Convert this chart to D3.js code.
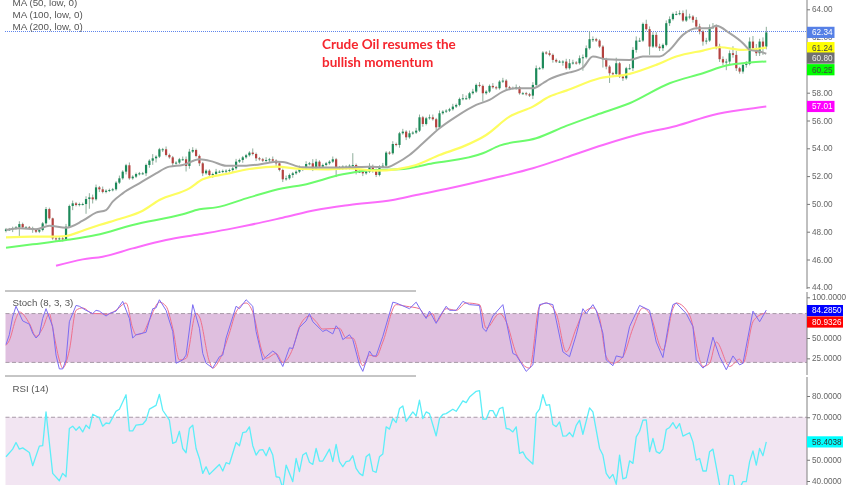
<!DOCTYPE html>
<html>
<head>
<meta charset="utf-8">
<script src="https://cdn.jsdelivr.net/npm/d3@7"></script>
<style>
  body { margin: 0; background: #fff; }
  svg { display: block; font-family: "Liberation Sans", Arial, sans-serif; }
</style>
</head>
<body>
<script>
// candles
var closes = [
  48.17,48.17,48.26,48.31,48.55,48.31,48.31,48.26,48.12,48.00,
  48.12,48.60,49.63,48.96,47.52,47.45,47.52,47.45,48.36,49.85,
  50.04,49.92,49.99,49.99,50.35,50.47,50.33,51.19,51.05,50.86,
  50.95,51.00,51.05,51.53,51.84,52.32,52.78,51.84,51.96,52.15,
  52.20,52.20,52.80,53.11,53.28,53.40,53.93,53.93,53.52,53.35,
  52.92,52.97,53.21,53.21,52.73,53.76,53.88,53.45,52.92,52.20,
  52.39,52.08,52.15,52.32,52.32,52.37,52.39,52.44,52.56,53.04,
  53.16,53.35,53.50,53.69,53.59,53.28,53.21,53.11,53.16,53.21,
  53.11,52.92,52.44,51.77,51.84,52.08,52.20,52.32,52.56,52.56,
  52.87,52.92,52.56,53.04,52.68,52.80,52.92,53.04,53.21,52.63,
  52.56,52.68,52.68,52.75,52.80,52.32,52.32,52.20,52.32,52.73,
  52.44,52.08,52.68,52.75,53.69,53.64,54.31,54.24,55.08,55.20,
  54.79,55.08,55.13,55.27,56.23,55.75,56.16,56.23,56.09,55.51,
  56.52,56.64,56.71,56.81,57.00,57.12,57.55,57.60,57.60,57.96,
  58.08,58.56,58.49,57.96,58.08,58.49,58.39,58.32,58.80,58.87,
  58.39,58.34,58.32,58.39,57.96,57.96,57.89,57.79,58.56,59.76,
  59.76,60.89,60.84,60.72,60.36,60.24,60.24,60.24,59.76,60.12,
  60.17,60.12,60.48,60.55,61.20,61.85,61.85,61.75,61.32,60.41,
  59.88,59.40,59.35,60.12,59.16,59.04,59.76,59.76,61.08,61.75,
  61.75,62.95,62.57,61.32,62.16,61.32,61.20,61.44,63.00,63.29,
  63.67,63.67,63.72,63.19,63.48,63.48,63.24,62.76,62.40,61.68,
  61.75,62.71,62.71,61.32,60.41,60.17,60.24,60.84,60.72,59.76,
  59.52,60.00,60.07,61.68,61.20,60.84,61.68,61.32,62.34
];
var opens = [
  48.05,48.17,48.17,48.26,48.31,48.55,48.31,48.31,48.26,48.12,
  48.00,48.12,48.60,49.63,48.96,47.52,47.45,47.52,47.45,48.36,
  49.85,50.04,49.92,49.99,49.99,50.35,50.47,50.33,51.19,51.05,
  50.86,50.95,51.00,51.05,51.53,51.84,52.32,52.78,51.84,51.96,
  52.15,52.20,52.20,52.80,53.11,53.28,53.40,53.93,53.93,53.52,
  53.35,52.92,52.97,53.21,53.21,52.73,53.76,53.88,53.45,52.92,
  52.20,52.39,52.08,52.15,52.32,52.32,52.37,52.39,52.44,52.56,
  53.04,53.16,53.35,53.50,53.69,53.59,53.28,53.21,53.11,53.16,
  53.21,53.11,52.92,52.44,51.77,51.84,52.08,52.20,52.32,52.56,
  52.56,52.87,52.92,52.56,53.04,52.68,52.80,52.92,53.04,53.21,
  52.63,52.56,52.68,52.68,52.75,52.80,52.32,52.32,52.20,52.32,
  52.73,52.44,52.08,52.68,52.75,53.69,53.64,54.31,54.24,55.08,
  55.20,54.79,55.08,55.13,55.27,56.23,55.75,56.16,56.23,56.09,
  55.51,56.52,56.64,56.71,56.81,57.00,57.12,57.55,57.60,57.60,
  57.96,58.08,58.56,58.49,57.96,58.08,58.49,58.39,58.32,58.80,
  58.87,58.39,58.34,58.32,58.39,57.96,57.96,57.89,57.79,58.56,
  59.76,59.76,60.89,60.84,60.72,60.36,60.24,60.24,60.24,59.76,
  60.12,60.17,60.12,60.48,60.55,61.20,61.85,61.85,61.75,61.32,
  60.41,59.88,59.40,59.35,60.12,59.16,59.04,59.76,59.76,61.08,
  61.75,61.75,62.95,62.57,61.32,62.16,61.32,61.20,61.44,63.00,
  63.29,63.67,63.67,63.72,63.19,63.48,63.48,63.24,62.76,62.40,
  61.68,61.75,62.71,62.71,61.32,60.41,60.17,60.24,60.84,60.72,
  59.76,59.52,60.00,60.07,61.68,61.20,60.84,61.68,61.32
];
// wick length above / below the body
var wickUp = [
  .1,.1,.1,.1,.2,.1,.1,.1,.1,.1, .1,.1,.15,.1,.05,.1,.1,.1,.2,.1,
  .2,.1,.1,.1,.2,.3,.2,.2,.1,.2, .1,.1,.1,.1,.2,.1,.1,.2,.1,.1,
  .1,.1,.1,.1,.3,.1,.1,.1,.2,.1, .1,.1,.1,.2,.2,.2,.2,.1,.1,.1,
  .1,.1,.1,.2,.1,.1,.1,.1,.1,.2, .1,.1,.1,.1,.3,.1,.1,.1,.2,.1,
  .2,.1,.1,.1,.2,.1,.1,.1,.2,.1, .2,.1,.3,.2,.1,.1,.1,.1,.2,.1,
  .1,.1,.1,.1,.85,.1,.1,.1,.1,.2, .1,.1,.1,.2,.1,.1,.2,.1,.1,.2,
  .1,.2,.1,.2,.2,.1,.1,.2,.2,.1, .2,.1,.1,.1,.2,.1,.1,.3,.2,.1,
  .2,.1,.2,.1,.1,.1,.2,.1,.1,.2, .1,.1,.1,.2,.1,.1,.1,.1,.2,.2,
  .1,.1,.1,.2,.1,.1,.1,.1,.2,.3, .2,.1,.2,.2,.2,.55,.2,.1,.1,.1,
  .1,.1,.1,.4,.1,.1,.1,.3,.2,.3, .2,.1,.3,.2,.2,.2,.2,.1,.2,.2,
  .1,.2,.2,.2,.5,.2,.1,.2,.2,.1, .2,.2,.3,.2,.2,.2,.2,.2,.5,.3,
  .1,.1,.2,.3,.4,.3,.2,.3,.4
];
var wickDown = [
  .1,.1,.2,.1,.65,.1,.1,.1,.2,.1, .1,.1,.1,.1,.1,.15,.1,.15,.1,.1,
  .3,.1,.1,.1,.7,.7,.3,.1,.2,.1, .1,.1,.1,.1,.1,.1,.2,.1,.1,.1,
  .1,.1,.2,.2,.3,.3,.1,.2,.1,.1, .2,.1,.1,.1,.4,.2,.1,.1,.2,.2,
  .1,.1,.2,.1,.1,.1,.2,.1,.2,.1, .1,.2,.1,.1,.1,.2,.1,.1,.1,.2,
  .1,.2,.1,.2,.1,.1,.2,.1,.1,.2, .1,.1,.2,.1,.1,.1,.1,.1,.1,.7,
  .1,.1,.2,.2,.1,.2,.1,.2,.1,.1, .2,.15,.1,.1,.1,.1,.1,.1,.2,.1,
  .2,.1,.1,.1,.1,.2,.1,.1,.1,.2, .1,.1,.1,.1,.1,.1,.1,.1,.1,.1,
  .1,.1,.1,.6,.1,.1,.1,.1,.1,.1, .2,.1,.1,.1,.1,.1,.1,.1,.25,.1,
  .1,.1,.1,.1,.2,.1,.1,.3,.1,.1, .1,.1,.1,.9,.1,.1,.2,.1,.1,.6,
  .2,.7,.1,.2,.1,.2,.1,.1,.2,.2, .1,.1,.1,.6,.1,.1,.2,.2,.1,.2,
  .1,.1,.1,.1,.1,.2,.2,.2,.2,.3, .2,.1,.1,.2,.2,.2,.55,.2,.2,.2,
  .15,.15,.2,.1,.2,.2,.2,.6,.2
];

var priceTicks = [64, 62, 58, 56, 54, 52, 50, 48, 46, 44];
var stochTicks = [100, 50, 25];
var rsiTicks = [80, 70, 50, 40];

// moving averages: bar number + value at the bends
var maGrayBars = [0,4,9,13,18,23,27,30,32,35,40,45,49,53,58,62,66,72,78,81,83,89,96,103,109,114,117,121,125,130,135,141,145,149,153,158,161,163,168,169,173,176,180,187,191,196,199,203,207,211,213,217,221,223,226,228];
var maGray = [48.12,48.24,48.17,48.43,48.29,48.79,49.37,49.56,50.16,50.76,51.48,52.20,52.68,52.80,53.21,53.04,52.75,52.75,52.92,53.04,53.02,52.63,52.61,52.63,52.68,52.63,52.92,53.52,54.36,55.44,56.28,57.12,57.48,58.08,58.32,58.32,58.68,58.97,59.40,59.46,59.81,60.60,60.41,60.36,60.60,60.60,61.08,62.16,62.64,62.64,62.81,62.28,61.56,61.08,60.96,60.80];
var maYellowBars = [0,8,14,18,23,28,34,41,46,55,59,66,73,81,89,96,103,111,117,123,130,137,144,151,158,163,168,178,187,195,201,209,214,221,228];
var maYellow = [47.59,47.64,47.64,47.69,48.07,48.48,48.91,49.51,50.28,51.12,51.77,52.15,52.51,52.68,52.51,52.49,52.56,52.39,52.49,52.80,53.52,54.12,54.96,56.28,57.00,57.72,58.15,59.04,59.35,60.00,60.60,61.03,61.27,61.08,61.24];
var maGreenBars = [0,8,18,27,38,53,58,63,73,83,89,101,110,118,128,143,148,159,168,177,187,199,209,216,223,228];
var maGreen = [46.85,47.09,47.40,47.76,48.48,49.25,49.61,49.75,50.47,51.12,51.36,52.13,52.44,52.49,52.92,53.64,54.19,54.72,55.61,56.40,57.24,58.68,59.40,59.95,60.17,60.25];
var maMagentaBars = [15,23,29,38,48,58,68,73,83,93,103,116,123,133,146,158,168,179,191,201,212,222,228];
var maMagenta = [45.55,46.01,46.20,46.80,47.40,47.81,48.24,48.48,49.01,49.56,49.92,50.28,50.64,51.12,51.84,52.56,53.35,54.24,55.08,55.61,56.40,56.81,57.01];

// stochastic
var stochKBars = [0,1,2,3,4,5,7,8,9,10,11,12,14,15,16,17,18,19,21,22,24,26,27,28,30,31,33,35,37,38,39,42,44,45,46,48,50,51,53,54,56,58,59,60,62,64,65,66,68,69,70,72,74,75,77,78,80,81,83,85,86,88,90,91,92,95,96,98,99,100,101,103,104,106,107,109,110,111,113,114,116,117,121,123,125,126,127,129,130,132,133,135,137,139,142,143,144,146,149,152,153,156,158,160,162,164,165,167,169,171,173,174,176,177,179,180,182,183,185,187,190,193,195,197,199,200,201,204,206,207,209,210,212,214,216,218,220,221,224,226,228];
var stochK = [42,54,76,89,80,71,67,56,50,54,74,86,64,29,12,12,23,70,90,89,84,80,84,83,77,80,83,95,74,50,54,57,86,87,97,84,58,19,23,29,91,62,31,19,13,27,29,50,76,89,86,97,89,58,23,27,34,31,15,38,37,63,71,80,70,58,60,55,65,60,48,54,48,17,9,34,28,28,52,66,94,93,86,94,80,74,83,68,76,89,84,84,95,91,90,62,58,77,91,31,29,9,17,91,93,91,72,33,27,54,86,80,91,84,56,23,16,28,26,64,90,84,45,26,74,91,93,80,64,23,13,17,51,27,11,28,17,19,83,70,84.285];
var stochDBars = [0,1,3,4,7,9,11,13,14,16,17,19,21,23,26,28,30,33,36,38,39,41,43,46,48,50,52,54,57,58,61,62,64,67,69,72,74,77,78,81,83,86,88,91,93,95,100,102,104,107,109,111,113,117,120,124,126,128,129,132,135,138,142,144,148,150,153,157,160,162,165,168,171,173,176,178,180,182,185,188,191,193,197,200,201,205,209,211,213,217,220,221,224,225,228];
var stochD = [41,47,74,82,68,52,62,80,62,23,13,35,84,87,80,80,79,84,93,62,54,56,72,94,89,62,23,25,80,76,21,13,23,56,82,93,82,31,25,31,20,37,64,77,70,61,62,50,50,16,29,27,45,91,89,86,76,80,70,86,84,93,91,62,80,70,31,13,89,93,80,33,62,80,87,74,27,19,27,62,87,80,35,86,93,78,15,19,45,15,24,19,70,75,80.9326];

// rsi
var rsiBars = [0,2,3,4,5,7,8,10,11,12,14,16,17,18,19,20,21,22,23,24,25,26,28,29,30,31,33,34,36,37,38,39,41,42,43,45,46,47,49,50,51,52,53,54,55,56,57,58,59,60,61,63,64,65,66,67,69,70,71,72,73,74,75,76,77,78,79,80,81,82,83,84,85,86,87,88,89,90,91,92,93,94,95,96,97,98,99,100,101,102,103,104,105,106,107,108,109,110,111,112,113,114,115,116,117,118,119,120,122,123,124,125,126,127,129,130,131,132,134,135,137,138,139,141,142,143,144,145,146,147,148,149,150,151,152,153,154,155,156,158,159,160,161,162,163,164,165,166,167,168,169,170,171,172,173,175,176,178,179,180,181,182,183,184,185,186,187,188,189,190,191,192,193,194,195,196,197,198,199,200,201,202,203,205,206,207,208,209,210,211,212,213,214,216,217,218,219,221,222,223,224,225,226,227,228];
var rsi = [51.4,55.0,58.1,55.0,55.6,53.4,47.2,56.4,56.6,72.5,43.6,40.1,43.6,42.0,64.7,65.8,63.9,65.5,63.1,66.3,64.7,71.4,69.7,65.8,67.3,67.0,72.8,73.8,80.6,63.6,63.6,66.3,66.7,68.6,73.8,75.6,80.8,73.3,68.6,57.7,58.4,63.4,55.3,53.3,64.7,66.3,55.3,50.6,43.6,46.7,43.1,46.2,47.8,44.7,48.6,48.0,58.1,56.6,62.8,63.1,65.5,56.6,52.2,54.5,54.8,51.9,55.8,52.2,42.0,41.7,36.6,47.5,43.6,39.7,50.6,44.4,52.2,53.3,48.8,47.8,55.3,49.4,49.4,52.2,55.0,49.1,57.2,49.1,46.7,49.1,49.5,51.9,45.9,43.6,42.5,51.4,52.7,44.7,44.1,51.4,52.7,65.5,64.4,69.4,67.5,74.1,75.3,68.1,72.5,70.6,78.0,69.4,72.5,71.7,61.2,69.4,71.3,71.7,73.8,72.8,77.7,76.9,79.5,82.2,82.5,69.1,69.1,73.1,73.1,70.2,74.1,74.7,64.7,64.4,63.1,65.5,53.0,53.7,50.9,48.0,71.7,73.8,80.6,75.6,75.9,66.6,65.6,67.8,61.1,61.2,62.8,60.8,66.2,68.6,62.0,74.4,72.5,55.3,52.2,43.6,41.2,43.1,38.4,52.2,41.0,41.6,49.5,48.3,60.8,63.4,68.6,68.8,53.8,60.0,53.8,53.0,55.0,64.2,65.2,67.5,64.7,67.0,61.1,62.7,58.4,49.8,50.6,44.7,44.7,53.8,55.0,46.7,38.1,31.9,42.8,42.5,33.4,39.7,39.7,49.1,54.2,47.5,55.3,51.9,58.4038];

var maLabels = ["MA (50, low, 0)", "MA (100, low, 0)", "MA (200, low, 0)"];
var titleLines = ["Crude Oil resumes the", "bullish momentum"];
var lastPrice = 62.34;
var stochBand = [80, 20];
var rsiBandTop = 70;

var width = 852, height = 485;
var axisX = 807;

var svg0 = d3.select("body").append("svg")
             .attr("width", width)
             .attr("height", height);

// the reference is a soft, slightly blurred screenshot
svg0.append("defs").append("filter")
    .attr("id", "soft")
    .attr("x", 0).attr("y", 0).attr("width", 1).attr("height", 1)
    .append("feGaussianBlur")
    .attr("stdDeviation", 0.35);

var svg = svg0.append("g").attr("filter", "url(#soft)");

svg.append("rect").attr("width", width).attr("height", height).attr("fill", "#fff");

var x = d3.scaleLinear().domain([0, closes.length - 1]).range([6, 766.3]);
var yPrice = d3.scaleLinear().domain([64, 44]).range([9.3, 287.3]);
var yStoch = d3.scaleLinear().domain([100, 0]).range([297.3, 378.7]);
var yRsi = d3.scaleLinear().domain([80, 40]).range([396, 481]);

// indicator bands
svg.append("rect")
   .attr("x", 5.5).attr("width", axisX - 5.5)
   .attr("y", yStoch(stochBand[0]))
   .attr("height", yStoch(stochBand[1]) - yStoch(stochBand[0]))
   .attr("fill", "#dfbfdf");
svg.append("rect")
   .attr("x", 5.5).attr("width", axisX - 5.5)
   .attr("y", yRsi(rsiBandTop))
   .attr("height", height - yRsi(rsiBandTop))
   .attr("fill", "#f2e5f2");

[yStoch(stochBand[0]), yStoch(stochBand[1]), yRsi(rsiBandTop)].forEach(function (yy) {
    svg.append("line")
       .attr("x1", 5.5).attr("x2", axisX)
       .attr("y1", yy).attr("y2", yy)
       .attr("stroke", "#a89aa8")
       .attr("stroke-width", 1)
       .attr("stroke-dasharray", "4,2.5");
});

// pane separators stop short of the right side in the reference
[291, 376].forEach(function (yy) {
    svg.append("line")
       .attr("x1", 5).attr("x2", 416)
       .attr("y1", yy).attr("y2", yy)
       .attr("stroke", "#8c8c8c");
});

// last price line
svg.append("line")
   .attr("x1", 5).attr("x2", axisX)
   .attr("y1", Math.round(yPrice(lastPrice)) - 0.5).attr("y2", Math.round(yPrice(lastPrice)) - 0.5)
   .attr("stroke", "#5f85ec")
   .attr("stroke-width", 1)
   .attr("stroke-dasharray", "1,1");

// candles
var bars = d3.range(closes.length);

svg.append("g").selectAll("line")
   .data(bars)
   .enter().append("line")
   .attr("x1", function (i) { return x(i); })
   .attr("x2", function (i) { return x(i); })
   .attr("y1", function (i) { return yPrice(Math.max(opens[i], closes[i]) + wickUp[i]); })
   .attr("y2", function (i) { return yPrice(Math.min(opens[i], closes[i]) - wickDown[i]); })
   .attr("stroke", "#8fae9c")
   .attr("stroke-width", 1);

svg.append("g").selectAll("rect")
   .data(bars)
   .enter().append("rect")
   .attr("x", function (i) { return x(i) - 1.1; })
   .attr("width", 2.2)
   .attr("y", function (i) { return yPrice(Math.max(opens[i], closes[i])); })
   .attr("height", function (i) { return Math.max(1, Math.abs(yPrice(opens[i]) - yPrice(closes[i]))); })
   .attr("fill", function (i) { return closes[i] >= opens[i] ? "#1f8a5a" : "#b4423f"; });

function drawLine(barNums, values, yScale, color, lineWidth, curve) {
    var line = d3.line()
                 .curve(curve)
                 .x(function (d) { return x(d); })
                 .y(function (d, i) { return yScale(values[i]); });
    svg.append("path")
       .attr("d", line(barNums))
       .attr("fill", "none")
       .attr("stroke", color)
       .attr("stroke-width", lineWidth)
       .attr("stroke-linejoin", "round");
}

drawLine(maMagentaBars, maMagenta, yPrice, "#fb6cfb", 2, d3.curveMonotoneX);
drawLine(maGreenBars, maGreen, yPrice, "#6cfb6c", 2, d3.curveMonotoneX);
drawLine(maYellowBars, maYellow, yPrice, "#fdfd60", 2.2, d3.curveMonotoneX);
drawLine(maGrayBars, maGray, yPrice, "#a3a3a3", 2, d3.curveMonotoneX);

drawLine(stochDBars, stochD, yStoch, "#f0708c", 1, d3.curveMonotoneX);
drawLine(stochKBars, stochK, yStoch, "#7c6cf2", 1, d3.curveLinear);
drawLine(rsiBars, rsi, yRsi, "#5ceef8", 1.3, d3.curveLinear);

// axes
function drawAxis(scale, ticks, fmt) {
    var axis = d3.axisRight(scale)
                 .tickValues(ticks)
                 .tickSize(3)
                 .tickPadding(2)
                 .tickFormat(fmt);
    var g = svg.append("g")
               .attr("transform", "translate(" + axisX + ",0)")
               .call(axis);
    g.select(".domain").remove();
    g.selectAll("line").attr("stroke", "#777");
    g.selectAll("text")
     .attr("fill", "#666")
     .style("font-size", "8.2px")
     .style("font-family", "Liberation Sans, Arial, sans-serif");
}
drawAxis(yPrice, priceTicks, d3.format(".2f"));
drawAxis(yStoch, stochTicks, d3.format(".4f"));
drawAxis(yRsi, rsiTicks, d3.format(".4f"));

[[0, 289], [292, 375], [377, 485]].forEach(function (seg) {
    svg.append("line")
       .attr("x1", axisX).attr("x2", axisX)
       .attr("y1", seg[0]).attr("y2", seg[1])
       .attr("stroke", "#808080");
});

// value flags on the axis
var flags = [
    { value: 62.34, scale: yPrice, shift: 0, text: "62.34", bg: "#5680e6", fg: "#fff", w: 27.5 },
    { value: 61.24, scale: yPrice, shift: 0, text: "61.24", bg: "#ffff00", fg: "#444", w: 27.5 },
    { value: 60.80, scale: yPrice, shift: 4.3, text: "60.80", bg: "#707070", fg: "#eee", w: 27.5 },
    { value: 60.25, scale: yPrice, shift: 8.3, text: "60.25", bg: "#00ff00", fg: "#444", w: 27.5 },
    { value: 57.01, scale: yPrice, shift: 0, text: "57.01", bg: "#ff00ff", fg: "#fff", w: 27.5 },
    { value: 84.285, scale: yStoch, shift: 0.5, text: "84.2850", bg: "#0000ff", fg: "#fff", w: 36 },
    { value: 80.9326, scale: yStoch, shift: 9.2, text: "80.9326", bg: "#ff0000", fg: "#fff", w: 36 },
    { value: 58.4038, scale: yRsi, shift: 0, text: "58.4038", bg: "#00ffff", fg: "#333", w: 36 }
];
var flag = svg.append("g").selectAll("g")
              .data(flags)
              .enter().append("g")
              .attr("transform", function (d) {
                  return "translate(" + axisX + "," + (d.scale(d.value) + d.shift) + ")";
              });
flag.append("rect")
    .attr("y", -5.6).attr("height", 11.2)
    .attr("width", function (d) { return d.w; })
    .attr("fill", function (d) { return d.bg; });
flag.append("text")
    .attr("x", 5).attr("dy", "0.35em")
    .attr("fill", function (d) { return d.fg; })
    .style("font-size", "8.2px")
    .text(function (d) { return d.text; });

// texts
svg.append("g").selectAll("text")
   .data(maLabels)
   .enter().append("text")
   .attr("x", 12.5)
   .attr("y", function (d, i) { return 6.3 + i * 11.9; })
   .attr("fill", "#555")
   .style("font-size", "9.8px")
   .text(function (d) { return d; });

svg.append("text").attr("x", 12.5).attr("y", 306).attr("fill", "#555")
   .style("font-size", "9.7px").text("Stoch (8, 3, 3)");
svg.append("text").attr("x", 12.5).attr("y", 391.5).attr("fill", "#555")
   .style("font-size", "9.7px").text("RSI (14)");

svg.append("g").selectAll("text")
   .data(titleLines)
   .enter().append("text")
   .attr("x", 322)
   .attr("y", function (d, i) { return 49 + i * 18; })
   .attr("fill", "#f5262e")
   .style("font-family", "Lato, sans-serif")
   .style("font-weight", 700)
   .style("font-size", "13.5px")
   .text(function (d) { return d; });
</script>
</body>
</html>
